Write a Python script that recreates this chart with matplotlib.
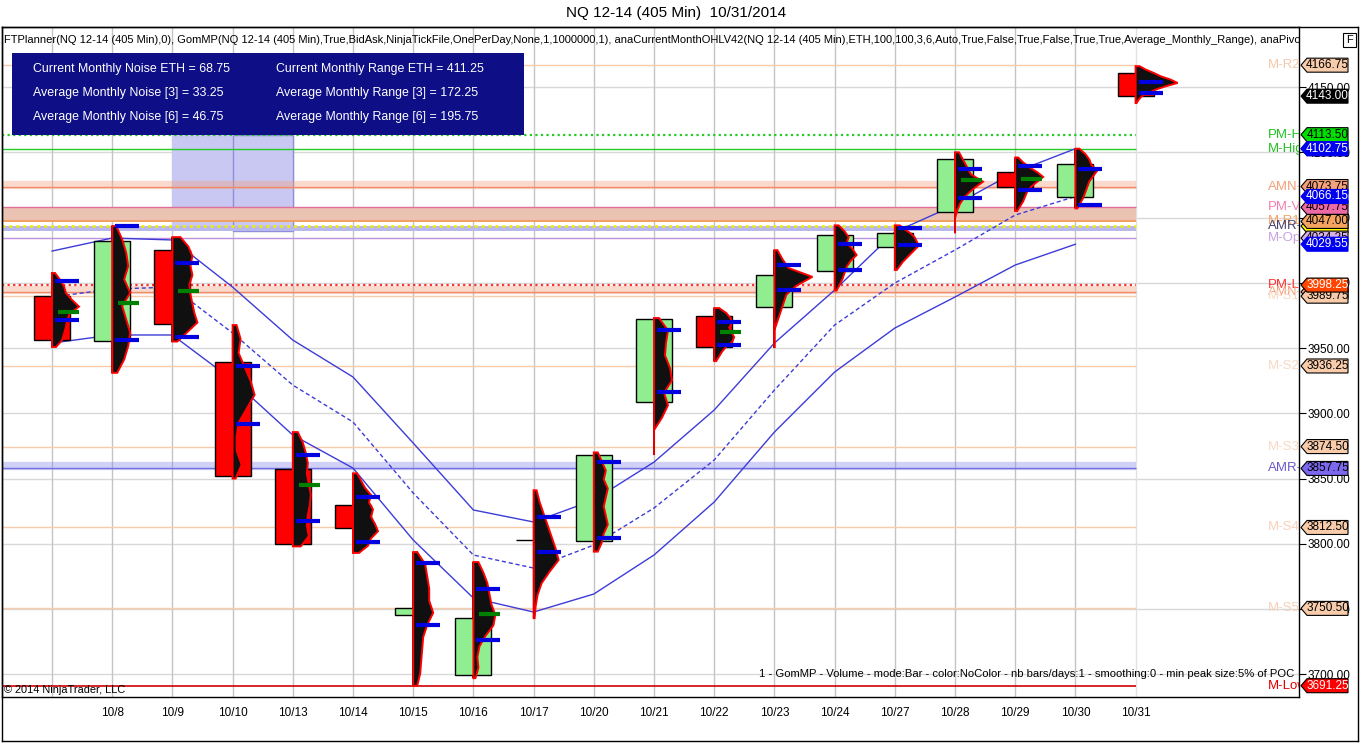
import numpy as np
import matplotlib
matplotlib.use('Agg')
import matplotlib.pyplot as plt
from matplotlib.patches import Rectangle, Polygon
from matplotlib.lines import Line2D
import matplotlib.transforms as mtransforms

# ---------------- data ----------------
dates = ['10/7', '10/8', '10/9', '10/10', '10/13', '10/14', '10/15', '10/16', '10/17', '10/20',
         '10/21', '10/22', '10/23', '10/24', '10/27', '10/28', '10/29', '10/30', '10/31']
tick_labels = [''] + dates[1:]

opens = [3989.8, 3955.4, 4025.0, 3939.0, 3857.0, 3829.7, 3745.4, 3699.4, 3803.0, 3802.0,
         3908.6, 3974.5, 3981.4, 4009.0, 4027.4, 4054.0, 4084.9, 4065.7, 4160.7]
highs = [4007.5, 4043.5, 4035.0, 3967.6, 3885.6, 3854.0, 3793.7, 3786.0, 3841.0, 3870.0,
         3973.0, 3980.6, 4025.0, 4044.0, 4044.0, 4100.0, 4096.0, 4102.75, 4166.0]
lows = [3950.8, 3931.0, 3955.0, 3850.0, 3798.0, 3793.0, 3691.25, 3697.0, 3743.0, 3794.0,
        3868.0, 3940.0, 3950.0, 3994.0, 4009.8, 4038.0, 4055.0, 4057.0, 4137.7]
closes = [3956.0, 4032.0, 3968.4, 3852.0, 3800.0, 3812.0, 3750.8, 3743.0, 3803.0, 3868.0,
          3972.0, 3950.8, 4006.0, 4036.6, 4038.0, 4094.8, 4073.4, 4091.0, 4143.0]
red_tail_dates = ['10/17', '10/21', '10/23', '10/28']

# monthly range bands (10/7 .. 10/30)
band_upper = [4024.3, 4034.3, 4032.8, 3996.7, 3956.1, 3927.8, 3877.2, 3825.9, 3816.7, 3833.5,
              3862.6, 3902.5, 3953.8, 3994.4, 4038.9, 4059.6, 4084.9, 4102.75]
band_mid = [3989.1, 3995.2, 3996.7, 3961.5, 3921.6, 3893.3, 3838.9, 3791.4, 3781.4, 3799.0,
            3827.4, 3864.2, 3917.8, 3967.6, 3999.8, 4025.1, 4051.9, 4066.15]
band_lower = [3953.8, 3960.0, 3960.0, 3925.5, 3883.3, 3858.0, 3802.9, 3758.4, 3747.7, 3761.5,
              3791.4, 3832.0, 3885.6, 3931.6, 3965.3, 3989.1, 4013.6, 4029.55]

# market profile value area high / low and POC
vah = [4001.3, 4043.5, 4015.1, 3936.2, 3868.0, 3835.8, 3785.2, 3765.3, 3820.5, 3862.6,
       3963.8, 3970.0, 4013.6, 4029.7, 4042.0, 4087.2, 4089.5, 4087.0, 4153.8]
val = [3971.5, 3956.1, 3958.4, 3891.8, 3817.4, 3801.3, 3737.7, 3726.2, 3793.7, 3804.4,
       3916.3, 3952.0, 3994.4, 4009.8, 4029.0, 4065.0, 4071.0, 4059.6, 4145.4]
poc = [3977.6, 3984.5, 3993.7, None, 3845.0, None, None, 3746.2, None, None,
       None, 3962.0, None, None, None, 4078.7, 4079.5, None, None]

# volume profiles (relative volume, from high to low)
profiles = [
    [3, 8, 12, 14, 20, 27, 18, 15, 14, 12, 10, 4],
    [4, 10, 14, 16, 12, 18, 10, 14, 18, 16, 12, 5],
    [8, 16, 20, 18, 20, 17, 18, 20, 22, 25, 15, 5],
    [4, 8, 6, 12, 18, 22, 14, 6, 4, 4, 9, 3],
    [5, 10, 13, 15, 14, 16, 18, 17, 15, 14, 16, 8],
    [4, 8, 12, 18, 16, 20, 18, 22, 25, 18, 15, 6],
    [4, 12, 14, 16, 16, 20, 14, 10, 9, 8, 7, 4],
    [5, 10, 14, 16, 18, 22, 20, 12, 6, 4, 5, 2],
    [3, 6, 10, 14, 18, 22, 25, 16, 8, 4, 2, 1],
    [4, 8, 12, 10, 14, 12, 10, 12, 14, 10, 8, 4],
    [5, 14, 12, 11, 16, 18, 10, 14, 8, 0, 0, 0],
    [5, 12, 16, 18, 15, 17, 20, 18, 12, 8, 5, 2],
    [3, 8, 14, 38, 22, 12, 9, 6, 3, 0, 0, 0],
    [4, 10, 14, 12, 18, 22, 16, 12, 10, 8, 5, 2],
    [5, 10, 16, 20, 22, 24, 20, 16, 12, 8, 5, 2],
    [4, 8, 12, 16, 28, 18, 10, 5, 2, 0, 0, 0],
    [3, 8, 14, 22, 28, 22, 16, 12, 10, 8, 5, 2],
    [4, 10, 14, 16, 22, 18, 14, 12, 10, 8, 5, 2],
    [4, 10, 18, 25, 35, 42, 30, 20, 12, 6, 3, 1],
]

level_names = ['M-R2', 'PM-H', 'M-High', 'AMN-H', 'PM-VWAP', 'M-R1', 'AMR-H', 'M-Open',
               'PM-L', 'AMN-L', 'M-S1', 'M-S2', 'M-S3', 'AMR-L', 'M-S4', 'M-S5', 'M-Low']
level_values = [4166.75, 4113.50, 4102.75, 4073.75, 4057.75, 4047.00, 4043.50, 4034.25,
                3998.25, 3993.00, 3989.75, 3936.25, 3874.50, 3857.75, 3812.50, 3750.50, 3691.25]

y_ticks = [3700, 3750, 3800, 3850, 3900, 3950, 4000, 4050, 4100, 4150]

info_left = ['Current Monthly Noise ETH = 68.75', 'Average Monthly Noise [3] = 33.25',
             'Average Monthly Noise [6] = 46.75']
info_right = ['Current Monthly Range ETH = 411.25', 'Average Monthly Range [3] = 172.25',
              'Average Monthly Range [6] = 195.75']

title = 'NQ 12-14 (405 Min)  10/31/2014'
header = ('FTPlanner(NQ 12-14 (405 Min),0), GomMP(NQ 12-14 (405 Min),True,BidAsk,NinjaTickFile,'
          'OnePerDay,None,1,1000000,1), anaCurrentMonthOHLV42(NQ 12-14 (405 Min),ETH,100,100,3,6,'
          'Auto,True,False,True,False,True,True,Average_Monthly_Range), anaPivots')
footer = ('1 - GomMP - Volume - mode:Bar - color:NoColor - nb bars/days:1 - smoothing:0 - '
          'min peak size:5% of POC')
copyright_txt = '\u00a9 2014 NinjaTrader, LLC'

# ---------------- styles ----------------
FONT = ['Liberation Sans', 'DejaVu Sans']
plt.rcParams['font.family'] = FONT

PEACH = '#F8CBAA'
line_style = {
    'M-R2': dict(color=PEACH, lw=1.0, ls='-'),
    'PM-H': dict(color='#22CC22', lw=1.6, ls=(0, (1, 1.5))),
    'M-High': dict(color='#22CC22', lw=1.0, ls='-'),
    'AMN-H': dict(color='#F08A6A', lw=1.0, ls='-'),
    'PM-VWAP': dict(color='#E0709A', lw=1.0, ls='-'),
    'M-R1': dict(color='#F0A060', lw=1.4, ls='-'),
    'AMR-H': dict(color='#EEEE00', lw=2.0, ls=(0, (1, 1.5))),
    'M-Open': dict(color='#C090E0', lw=1.0, ls='-'),
    'PM-L': dict(color='#FF3030', lw=1.6, ls=(0, (1, 1.5))),
    'AMN-L': dict(color='#F08A6A', lw=1.0, ls='-'),
    'M-S1': dict(color=PEACH, lw=1.0, ls='-'),
    'M-S2': dict(color=PEACH, lw=1.0, ls='-'),
    'M-S3': dict(color=PEACH, lw=1.0, ls='-'),
    'AMR-L': dict(color='#7070E0', lw=1.0, ls='-'),
    'M-S4': dict(color=PEACH, lw=1.0, ls='-'),
    'M-S5': dict(color=PEACH, lw=1.0, ls='-'),
    'M-Low': dict(color='#D00000', lw=1.2, ls='-'),
}
label_color = {
    'M-R2': '#F5C8AA', 'PM-H': '#22C022', 'M-High': '#22C022', 'AMN-H': '#F4A07A',
    'PM-VWAP': '#F080B0', 'M-R1': '#F4A460', 'AMR-H': '#4A4070', 'M-Open': '#C8A0E0',
    'PM-L': '#FF3030', 'AMN-L': '#F4A07A', 'M-S1': '#F8D8C4', 'M-S2': '#F8D8C4',
    'M-S3': '#F8D8C4', 'AMR-L': '#6A5ACD', 'M-S4': '#F8D0B8', 'M-S5': '#F8D0B8',
    'M-Low': '#E00000',
}
tag_style = {  # face, text, z
    'M-R2': (PEACH, 'black', 1), 'PM-H': ('#00E000', 'black', 1), 'M-High': ('#00E000', 'black', 0),
    'AMN-H': ('#F4A07A', 'black', 1), 'PM-VWAP': ('#EE6AA7', 'black', 1),
    'M-R1': ('#F4A460', 'black', 3), 'AMR-H': ('#FFFF00', 'black', 2), 'M-Open': ('#D8B0E8', 'black', 2),
    'PM-L': ('#FF4500', 'white', 4), 'AMN-L': ('#F4A07A', 'black', 2), 'M-S1': (PEACH, 'black', 3),
    'M-S2': (PEACH, 'black', 1), 'M-S3': (PEACH, 'black', 1), 'AMR-L': ('#7B68EE', 'black', 1),
    'M-S4': (PEACH, 'black', 1), 'M-S5': (PEACH, 'black', 1), 'M-Low': ('#FF0000', 'white', 1),
}
band_names = {'AMN-H': '#F4A07A', 'AMN-L': '#F4A07A', 'AMR-L': '#8888EE'}

# ---------------- figure geometry ----------------
W, H = 1360, 743
fig = plt.figure(figsize=(W / 100, H / 100), dpi=100)
fig.patch.set_facecolor('white')


def fx(px):
    return px / W


def fy(py):
    return 1 - py / H


AX_L, AX_R, AX_T, AX_B = 2, 1299, 27, 697
X0, DX = 52, 60.2
ax = fig.add_axes([fx(AX_L), fy(AX_B), fx(AX_R) - fx(AX_L), fy(AX_T) - fy(AX_B)])
xmin, xmax = (AX_L - X0) / DX, (AX_R - X0) / DX
ymin, ymax = 3682.6, 4196.0
ax.set_xlim(xmin, xmax)
ax.set_ylim(ymin, ymax)
PX_PER_UNIT = (AX_B - AX_T) / (ymax - ymin)
n = len(dates)
xs = np.arange(n)
last = n - 1

# grid
for yt in y_ticks:
    ax.axhline(yt, color='#D8D8D8', lw=1, zorder=0.5)
for i in xs:
    ax.axvline(i, color='#C4C4C4' if i < last else '#E2E2E2', lw=1, zorder=0.5)

# shaded zone
ax.add_patch(Rectangle((2, 4040.0), 2, 4113.5 - 4040.0, facecolor='#C8C8F2', edgecolor='none', zorder=0.8))
ax.add_patch(Rectangle((3, 4040.0), 1, 4113.5 - 4040.0, facecolor='none', edgecolor='#8E8EDA', lw=1, zorder=0.9))

# level bands / lines
ax.fill_between([xmin, last], 4047.0, 4057.75, color='#EBC3B2', lw=0, zorder=1)
ax.fill_between([xmin, last], 4039.7, 4043.5, color='#B8B8EC', lw=0, zorder=1)
for name, v in zip(level_names, level_values):
    if name in band_names:
        ax.hlines(v + 1.5, xmin, last, color=band_names[name], lw=6, alpha=0.38, zorder=1)
    st = line_style[name]
    ax.hlines(v, xmin, last, color=st['color'], lw=st['lw'], linestyles=[st['ls']], zorder=1.2)
    ax.text(xmin + (1268 - AX_L) / DX, v, name, color=label_color[name], fontsize=9.5,
            ha='left', va='center', clip_on=True, zorder=6)

# range bands
bx = xs[:len(band_upper)]
ax.plot(bx, band_upper, color='#3C3CD8', lw=1, zorder=2.5)
ax.plot(bx, band_mid, color='#3C3CD8', lw=1, ls=(0, (3, 2)), zorder=2.5)
ax.plot(bx, band_lower, color='#3C3CD8', lw=1, zorder=2.5)

# candles
ax.vlines(xs, lows, highs, color='black', lw=1.2, zorder=2.9)
for i in xs:
    o, c = opens[i], closes[i]
    col = '#90EE90' if c > o else '#FF0000'
    ax.bar(i, c - o if c != o else 0.0, bottom=o, width=0.6, color=col, edgecolor='black', lw=1, zorder=3)
    if dates[i] in red_tail_dates:
        ax.vlines(i, lows[i], min(o, c), color='#E00000', lw=1.2, zorder=4.5)

# volume profiles
for i in xs:
    v = np.asarray(profiles[i], float) / DX
    ys = np.linspace(highs[i], lows[i], len(v))
    px = np.concatenate([[i], i + v, [i]])
    py = np.concatenate([[highs[i]], ys, [lows[i]]])
    ax.add_patch(Polygon(np.column_stack([px, py]), closed=True, facecolor='#101010',
                         edgecolor='#FF0000', lw=1.4, zorder=4))

# value area marks
ax.hlines(vah, xs + 0.05, xs + 0.45, color='#0000E0', lw=3, zorder=5)
ax.hlines(val, xs + 0.05, xs + 0.45, color='#0000E0', lw=3, zorder=5)
for i in xs:
    if poc[i] is not None:
        ax.hlines(poc[i], i + 0.1, i + 0.45, color='#008000', lw=3, zorder=5)

# axes styling
for s in ax.spines.values():
    s.set_color('black')
    s.set_linewidth(1)
ax.yaxis.tick_right()
ax.set_yticks(y_ticks)
ax.set_yticklabels([f'{t:.2f}' for t in y_ticks], fontsize=8.5)
ax.tick_params(axis='y', direction='out', length=5, pad=1, colors='black')
ax.set_xticks(xs)
ax.set_xticklabels(tick_labels, fontsize=8.5)
ax.tick_params(axis='x', length=0, pad=7)

# texts inside plot
ax.text((4 - AX_L) / (AX_R - AX_L), 1 - (40 - AX_T) / (AX_B - AX_T), header, transform=ax.transAxes,
        fontsize=8.0, ha='left', va='center', clip_on=True, zorder=7)
ax.text((1294 - AX_L) / (AX_R - AX_L), 1 - (674 - AX_T) / (AX_B - AX_T), footer, transform=ax.transAxes,
        fontsize=8.1, ha='right', va='center', zorder=7)
ax.text((4 - AX_L) / (AX_R - AX_L), 1 - (690 - AX_T) / (AX_B - AX_T), copyright_txt, transform=ax.transAxes,
        fontsize=7.9, ha='left', va='center', zorder=7)

# info box
fig.add_artist(Rectangle((fx(12), fy(135)), fx(524) - fx(12), fy(53) - fy(135), transform=fig.transFigure,
                         facecolor='#0E0E86', edgecolor='none', zorder=5))
for k, (a, b) in enumerate(zip(info_left, info_right)):
    yy = fy(69 + 24 * k)
    fig.text(fx(33), yy, a, color='white', fontsize=8.9, ha='left', va='center', zorder=6)
    fig.text(fx(276), yy, b, color='white', fontsize=8.9, ha='left', va='center', zorder=6)

# title
fig.text(fx(676), fy(13), title, fontsize=11, ha='center', va='center')

# price tags on right axis
trans = mtransforms.blended_transform_factory(fig.transFigure, ax.transData)
half = 7.0 / PX_PER_UNIT


def tag(value, face, tc, z, edge='black'):
    tip, x1, x2 = fx(1301), fx(1307), fx(1348)
    verts = [(tip, value), (x1, value + half), (x2, value + half), (x2, value - half), (x1, value - half)]
    fig.add_artist(Polygon(verts, closed=True, transform=trans, facecolor=face, edgecolor=edge,
                           lw=0.8, zorder=10 + z))
    fig.text(fx(1327.5), value, f'{value:.2f}', transform=trans, color=tc, fontsize=8.5,
             ha='center', va='center', zorder=10.5 + z)


for name, v in zip(level_names, level_values):
    face, tc, z = tag_style[name]
    tag(v, face, tc, z)
tag(band_upper[-1], '#0000F0', 'white', 5, edge='#0000F0')
tag(band_mid[-1], '#0000F0', 'white', 5, edge='#0000F0')
tag(band_lower[-1], '#0000F0', 'white', 5, edge='#0000F0')
tag(closes[-1], '#000000', 'white', 6)

# "F" button
fig.add_artist(Rectangle((fx(1343), fy(47)), fx(1356) - fx(1343), fy(33) - fy(47), transform=fig.transFigure,
                         facecolor='white', edgecolor='black', lw=0.8, zorder=5))
fig.text(fx(1349.5), fy(40), 'F', fontsize=8, ha='center', va='center', zorder=6)

# outer frame
for (x1, y1, x2, y2) in [(2, 27, 1358, 27), (1358, 27, 1358, 741), (2, 741, 1358, 741), (2, 27, 2, 741)]:
    fig.add_artist(Line2D([fx(x1), fx(x2)], [fy(y1), fy(y2)], transform=fig.transFigure,
                          color='black', lw=1, zorder=4))

fig.savefig('out.png', dpi=100)
